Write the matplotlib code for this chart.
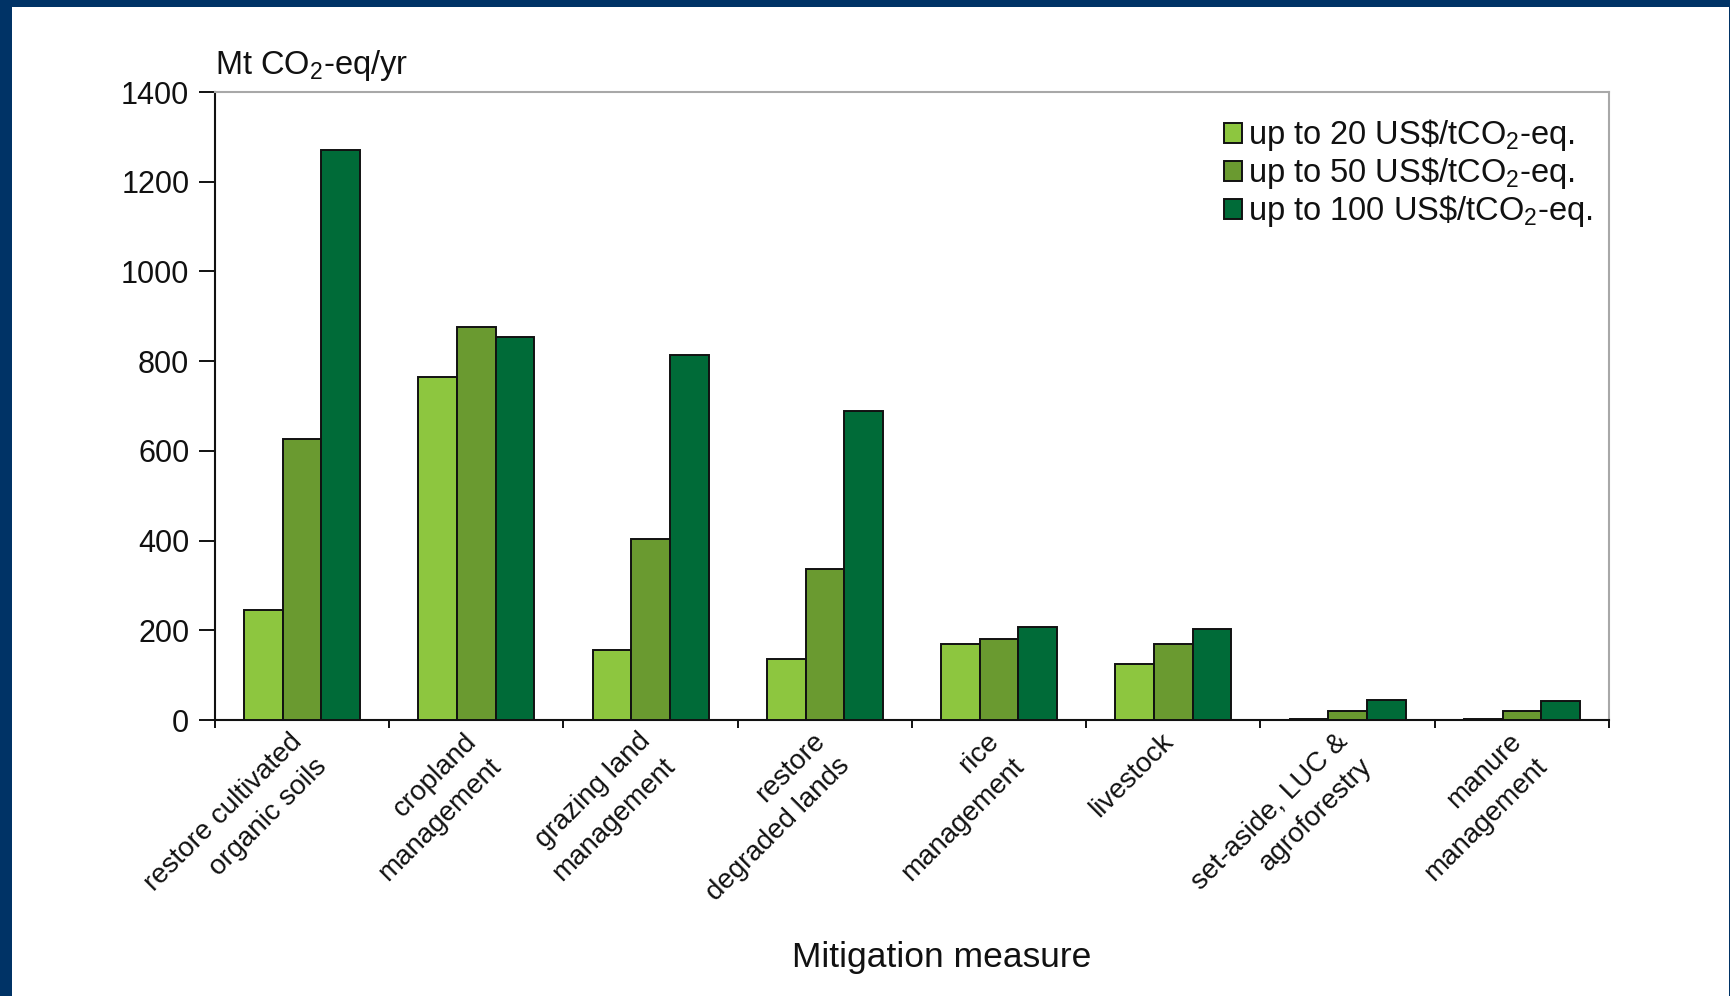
import numpy as np
import matplotlib
matplotlib.use("Agg")
import matplotlib.pyplot as plt
from matplotlib.patches import Rectangle
from matplotlib.transforms import ScaledTranslation

plt.rcParams["font.family"] = ["Liberation Sans", "DejaVu Sans"]
plt.rcParams["mathtext.fontset"] = "custom"
plt.rcParams["mathtext.rm"] = "Liberation Sans"
plt.rcParams["mathtext.it"] = "Liberation Sans"
plt.rcParams["mathtext.bf"] = "Liberation Sans"

# Mitigation measures and economic potential (Mt CO2-eq/yr) by carbon price
measures = [
    "restore cultivated\norganic soils",
    "cropland\nmanagement",
    "grazing land\nmanagement",
    "restore\ndegraded lands",
    "rice\nmanagement",
    "livestock",
    "set-aside, LUC &\nagroforestry",
    "manure\nmanagement",
]
up_to_20 = [246, 765, 157, 135, 170, 125, 3, 3]
up_to_50 = [627, 876, 404, 337, 180, 170, 20, 20]
up_to_100 = [1270, 854, 814, 689, 207, 202, 44, 42]

series_labels = [
    "up to 20 US\\$/tCO$_2$-eq.",
    "up to 50 US\\$/tCO$_2$-eq.",
    "up to 100 US\\$/tCO$_2$-eq.",
]
series_colors = ["#8DC63F", "#6A9A30", "#006B38"]
y_ticks = [0, 200, 400, 600, 800, 1000, 1200, 1400]

W, H, DPI = 1731, 996, 100
fig = plt.figure(figsize=(W / DPI, H / DPI), dpi=DPI, facecolor="#003366")

# white page inside the navy frame
fig.patches.append(Rectangle((12 / W, 0), (1729 - 12) / W, (H - 7) / H,
                             transform=fig.transFigure, facecolor="white",
                             edgecolor="none", zorder=-10))

ax = fig.add_axes([215 / W, (H - 720) / H, (1609 - 215) / W, (720 - 92) / H])
ax.set_facecolor("white")

x = np.arange(len(measures))
bw = 0.222
for i, (vals, lab, col) in enumerate(zip([up_to_20, up_to_50, up_to_100],
                                         series_labels, series_colors)):
    ax.bar(x + (i - 1) * bw, vals, width=bw, color=col, edgecolor="#111111",
           linewidth=1.4, label=lab, zorder=3)

ax.set_xlim(-0.5, len(measures) - 0.5)
ax.set_ylim(0, 1400)
ax.set_yticks(y_ticks)
ax.tick_params(axis="y", direction="out", length=11.5, width=1.4,
               labelsize=22, pad=7, colors="#111111")

# category labels at group centres, boundary ticks as minor ticks
ax.set_xticks(x)
ax.set_xticklabels(measures, rotation=45, ha="right", va="top",
                   rotation_mode="anchor", fontsize=20, linespacing=1.45,
                   multialignment="right", color="#111111")
ax.tick_params(axis="x", which="major", length=0, pad=6)
ax.set_xticks(np.arange(-0.5, len(measures), 1.0), minor=True)
ax.tick_params(axis="x", which="minor", direction="out", length=6, width=1.4,
               color="#111111")
offset = ScaledTranslation(-0.13, 0, fig.dpi_scale_trans)
for lbl in ax.get_xticklabels():
    lbl.set_transform(lbl.get_transform() + offset)

for side in ("left", "bottom"):
    ax.spines[side].set_color("#111111")
    ax.spines[side].set_linewidth(1.5)
for side in ("top", "right"):
    ax.spines[side].set_color("#A8A8A8")
    ax.spines[side].set_linewidth(1.5)

ax.set_xlabel("Mitigation measure", fontsize=25.5, color="#111111")
ax.xaxis.set_label_coords((942 - 215) / (1609 - 215), (720 - 957) / (720 - 92))
ax.xaxis.label.set_va("center")

ax.text(0.0, 1.014, "Mt CO$_2$-eq/yr", transform=ax.transAxes, fontsize=23.5,
        ha="left", va="bottom", color="#111111")

leg = ax.legend(loc="upper right", bbox_to_anchor=(1.005, 0.996), frameon=False,
                fontsize=23.5, handlelength=0.55, handleheight=0.55,
                handletextpad=0.2, labelspacing=0.06, borderpad=0.2)
for t in leg.get_texts():
    t.set_color("#111111")

fig.savefig("out.png", dpi=DPI, facecolor=fig.get_facecolor())
